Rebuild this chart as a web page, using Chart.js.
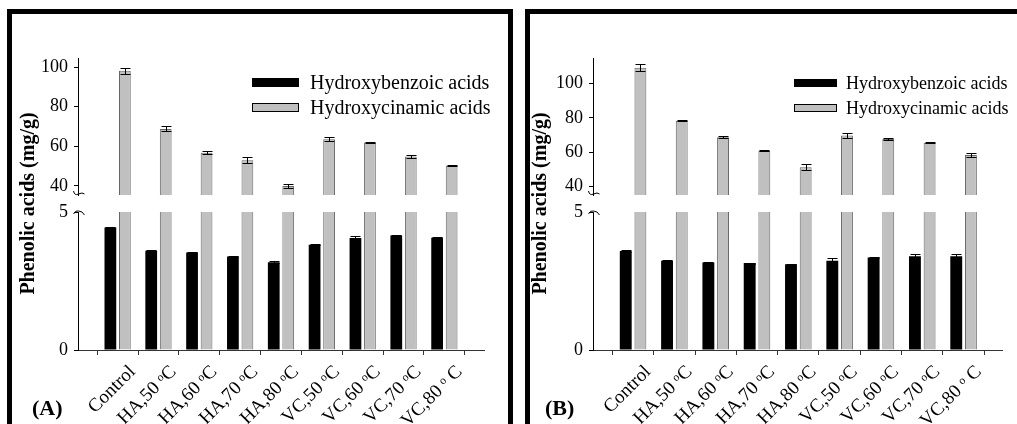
<!DOCTYPE html>
<html><head><meta charset="utf-8">
<script src="https://cdn.jsdelivr.net/npm/chart.js@4.4.1/dist/chart.umd.min.js"></script>
<style>
html,body{margin:0;padding:0;background:#fff;width:1017px;height:424px;overflow:hidden;position:relative;font-family:"Liberation Serif",serif;}
.frame{position:absolute;border:5px solid #000;box-sizing:border-box;}
#fa{left:7px;top:9px;width:506px;height:440px;}
#fb{left:525px;top:9px;width:520px;height:440px;}
.cv{position:absolute;top:0;height:424px;}
#wa{left:0;width:507px;}
#wb{left:520px;width:497px;}
.tag{position:absolute;font:bold 22px "Liberation Serif",serif;line-height:22px;top:397px;color:#000;}
</style></head>
<body>
<div class="frame" id="fa"></div><div class="frame" id="fb"></div>
<div class="cv" id="wa"><canvas id="ca"></canvas></div>
<div class="cv" id="wb"><canvas id="cb"></canvas></div>
<div class="tag" style="left:32px">(A)</div>
<div class="tag" style="left:545px">(B)</div>
<script>
// ---- data ----
const categories = ['Control','HA,50 ᵒC','HA,60 ᵒC','HA,70 ᵒC','HA,80 ᵒC','VC,50 ᵒC','VC,60 ᵒC','VC,70 ᵒC','VC,80 ᵒ C'];
const seriesNames = ['Hydroxybenzoic acids','Hydroxycinamic acids'];
const benzoicA    = [4.44,3.60,3.53,3.39,3.18,3.81,4.06,4.15,4.07];
const benzoicErrA = [0.03,0.03,0.02,0.02,0.04,0.02,0.06,0.03,0.03];
const cinamicA    = [98.2,68.8,56.8,53.0,40.0,63.6,61.9,54.9,50.2];
const cinamicErrA = [1.5,1.2,0.9,1.5,0.9,0.9,0.3,0.7,0.2];
const benzoicB    = [3.59,3.23,3.17,3.15,3.11,3.23,3.35,3.40,3.40];
const benzoicErrB = [0.03,0.02,0.02,0.02,0.02,0.11,0.03,0.07,0.07];
const cinamicB    = [109.1,78.3,68.8,60.9,51.3,69.8,67.8,65.5,58.4];
const cinamicErrB = [2.1,0.2,0.6,0.3,1.8,1.2,0.6,0.3,1.0];
const upperTicksA = [40,60,80,100];
const upperTicksB = [40,60,80,100];
const lowerTicks  = [0,5];
const yTitle = 'Phenolic acids (mg/g)';

const FONT = 'Liberation Serif';
const BLACK = '#000000', GREY = '#c0c0c0', GREY_EDGE = '#666666';

const errorBars = {
  id: 'errorBars',
  afterDatasetsDraw(chart) {
    const ctx = chart.ctx;
    chart.data.datasets.forEach((ds, di) => {
      if (!ds.errors) return;
      const meta = chart.getDatasetMeta(di);
      const ys = chart.scales[ds.yAxisID];
      meta.data.forEach((bar, i) => {
        const v = meta.controller.getParsed(i).y, e = ds.errors[i];
        const x = Math.round(bar.x) + 0.5;
        const y1 = Math.round(ys.getPixelForValue(v + e)) + 0.5;
        const y2 = Math.round(ys.getPixelForValue(v - e)) + 0.5;
        ctx.save();
        ctx.strokeStyle = '#000'; ctx.lineWidth = 1;
        ctx.beginPath();
        ctx.moveTo(x, y1); ctx.lineTo(x, y2);
        ctx.moveTo(x - 5, y1); ctx.lineTo(x + 5, y1);
        ctx.moveTo(x - 5, y2); ctx.lineTo(x + 5, y2);
        ctx.stroke();
        ctx.restore();
      });
    });
  }
};

const boxLegend = {
  id: 'boxLegend',
  afterDraw(chart, args, o) {
    const ctx = chart.ctx;
    ctx.save();
    o.items.forEach((it, k) => {
      const ds = chart.data.datasets[it];
      const y = o.y + k * o.step;
      ctx.fillStyle = ds.backgroundColor;
      ctx.fillRect(o.x, y - o.h / 2, o.w, o.h);
      if (ds.legendEdge) {
        ctx.strokeStyle = '#000'; ctx.lineWidth = 1;
        ctx.strokeRect(o.x + 0.5, Math.round(y - o.h / 2) + 0.5, o.w - 1, o.h - 1);
      }
      ctx.fillStyle = '#000';
      ctx.font = o.size + 'px "' + FONT + '"';
      ctx.textBaseline = 'middle';
      ctx.textAlign = 'left';
      ctx.fillText(ds.label, o.tx, y + 1);
    });
    ctx.restore();
  }
};

const breakMarks = {
  id: 'breakMarks',
  afterDraw(chart) {
    const ctx = chart.ctx;
    const up = chart.scales.yUp, lo = chart.scales.yLow;
    const x = Math.round(lo.right) + 0.5;
    ctx.save();
    ctx.strokeStyle = '#000'; ctx.lineWidth = 1;
    ctx.beginPath();
    let y = up.bottom - 2;
    ctx.moveTo(x - 5, y - 2);
    ctx.quadraticCurveTo(x - 4, y + 3, x, y + 1);
    ctx.quadraticCurveTo(x + 4, y - 1, x + 6, y + 1);
    y = lo.top + 1;
    ctx.moveTo(x - 5, y + 1);
    ctx.quadraticCurveTo(x - 3, y - 3, x, y - 2);
    ctx.quadraticCurveTo(x + 4, y - 2, x + 6, y + 2);
    ctx.stroke();
    ctx.restore();
  }
};

function makePanel(id, p) {
  const tickFont = {family: FONT, size: 18};
  const yCommon = (weight) => ({
    type: 'linear', position: 'left', stack: 'left', stackWeight: weight, stacked: false,
    afterFit: s => { s.width = p.axisW; },
    ticks: {font: tickFont, color: '#000', padding: 6},
    grid: {drawOnChartArea: false, tickLength: 4, color: '#000'},
    border: {color: '#000', width: 1}
  });
  const yLow = Object.assign(yCommon(138), {
    min: 0, max: 5,
    afterBuildTicks: s => { s.ticks = lowerTicks.map(v => ({value: v})); }
  });
  const yGap = {
    type: 'linear', position: 'left', stack: 'left', stackWeight: 17, stacked: false,
    min: 0, max: 1,
    afterFit: s => { s.width = p.axisW; },
    ticks: {display: false}, grid: {display: false}, border: {display: false},
    title: {display: true, text: yTitle, color: '#000',
      font: {family: FONT, size: 20, weight: 'bold'}, padding: {top: p.titlePad, bottom: 0}}
  };
  const yUp = Object.assign(yCommon(137), {
    min: p.upMin, max: p.upMax,
    afterBuildTicks: s => { s.ticks = p.upTicks.map(v => ({value: v})); }
  });
  new Chart(document.getElementById(id), {
    type: 'bar',
    data: {
      labels: categories,
      datasets: [
        {label: seriesNames[0], data: p.benzoic, errors: p.benzoicErr, yAxisID: 'yLow', stack: 'b',
          backgroundColor: BLACK, borderWidth: 0},
        {label: seriesNames[1], data: p.cinamic.map(v => Math.min(v, lowerTicks[1])), yAxisID: 'yLow', stack: 'g',
          backgroundColor: GREY, borderColor: GREY_EDGE, borderWidth: {left: 1, right: 1, top: 0, bottom: 0}},
        {label: seriesNames[1], data: p.cinamic, errors: p.cinamicErr, yAxisID: 'yUp', stack: 'g',
          backgroundColor: GREY, borderColor: GREY_EDGE, borderWidth: 1, legendEdge: true}
      ].map(d => Object.assign(d, {categoryPercentage: 0.71, barPercentage: 0.81}))
        .map(d => { d.data = d.data.map((v, i) => ({x: i, y: v})); return d; })
    },
    options: {
      responsive: true, maintainAspectRatio: false, animation: false, devicePixelRatio: 1,
      layout: {padding: {left: 0, top: 58, right: p.padRight, bottom: 0}},
      plugins: {legend: {display: false}, tooltip: {enabled: false},
        boxLegend: p.legend},
      scales: {
        x: {
          type: 'linear', min: -0.97, max: p.xMax, offset: false,
          afterBuildTicks: s => { s.ticks = categories.map((c, i) => ({value: i})); },
          afterFit: s => { s.height = 74; },
          ticks: {autoSkip: false, minRotation: 45, maxRotation: 45, color: '#000',
            font: {family: FONT, size: 19}, padding: 6, labelOffset: 15,
            callback: v => categories[v]},
          grid: {drawOnChartArea: false, tickLength: 5, color: '#333'},
          border: {color: '#333', width: 1}
        },
        yLow: yLow, yGap: yGap, yUp: yUp
      }
    },
    plugins: [errorBars, boxLegend, breakMarks]
  });
}

makePanel('ca', {
  benzoic: benzoicA, benzoicErr: benzoicErrA, cinamic: cinamicA, cinamicErr: cinamicErrA,
  upMin: 35.4, upMax: 104.6, upTicks: upperTicksA, axisW: 78, padRight: 23, xMax: 8.97, titlePad: 17,
  legend: {items: [0, 2], x: 252, w: 47, h: 9, y: 82.5, step: 25, tx: 310, size: 20}
});
makePanel('cb', {
  benzoic: benzoicB, benzoicErr: benzoicErrB, cinamic: cinamicB, cinamicErr: cinamicErrB,
  upMin: 35.2, upMax: 114.8, upTicks: upperTicksB, axisW: 73, padRight: 15, xMax: 8.93, titlePad: 9,
  legend: {items: [0, 2], x: 274, w: 43, h: 8, y: 83, step: 25, tx: 326, size: 18}
});
</script>
</body></html>
